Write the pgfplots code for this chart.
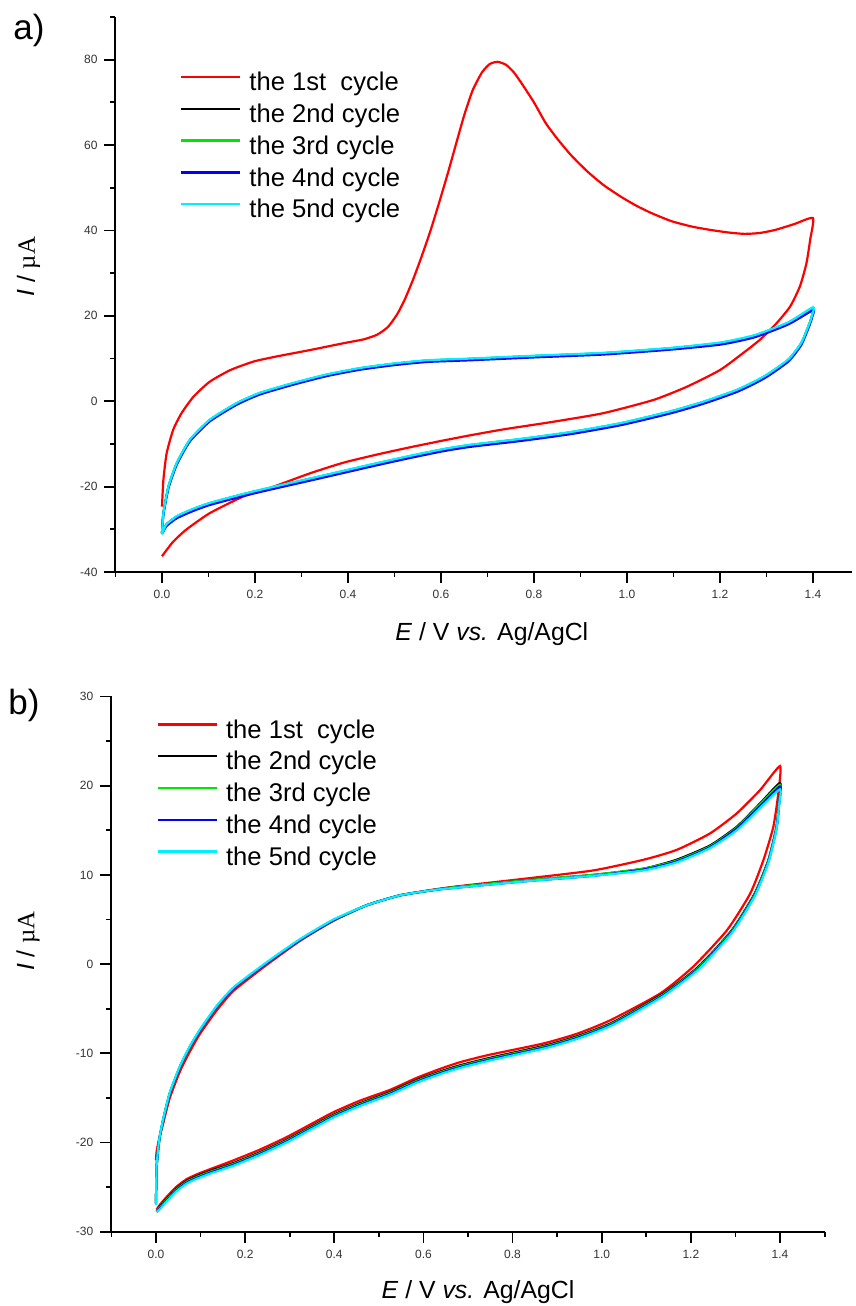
\documentclass[border=0pt]{standalone}
\usepackage{fontspec}
\setmainfont{Liberation Sans}
\newfontfamily\seriffont{Liberation Serif}
\usepackage{pgfplots}
\usepackage{pgfplotstable}
\pgfplotsset{compat=1.18}

\definecolor{cvred}{RGB}{255,0,0}
\definecolor{cvgreen}{RGB}{0,230,0}
\definecolor{cvblue}{RGB}{0,0,255}
\definecolor{cvcyan}{RGB}{0,240,255}

% panel a, 1st cycle
\pgfplotstableread{
E I
0 -24.7
0.003 -18.4
0.010 -12.2
0.024 -6.7
0.042 -2.8
0.068 1.1
0.103 4.6
0.147 7.3
0.197 9.3
0.247 10.5
0.319 12.0
0.391 13.6
0.434 14.5
0.463 15.6
0.486 17.4
0.506 20.4
0.522 23.8
0.540 28.5
0.558 33.8
0.577 39.8
0.596 46.5
0.615 53.5
0.633 60.5
0.650 67.0
0.668 72.8
0.688 77.0
0.705 79.0
0.722 79.5
0.740 78.8
0.757 77.0
0.775 74.2
0.800 70.0
0.825 65.2
0.850 61.5
0.880 57.6
0.915 53.8
0.950 50.6
0.987 47.9
1.020 45.8
1.052 44.1
1.095 42.2
1.140 40.9
1.181 40.1
1.220 39.5
1.253 39.2
1.285 39.4
1.318 40.1
1.360 41.5
1.400 42.9
1.394 37.8
1.386 32.3
1.372 26.9
1.351 22.2
1.322 18.3
1.286 14.4
1.250 11.3
1.200 7.3
1.129 3.4
1.057 0.3
0.949 -2.8
0.842 -4.8
0.734 -6.6
0.662 -8.0
0.605 -9.2
0.533 -10.8
0.462 -12.5
0.390 -14.4
0.318 -16.9
0.225 -20.6
0.175 -22.3
0.103 -26.2
0.053 -30.0
0.024 -32.9
0 -36.3
}\aRed

% panel a, cycles 2-5
\pgfplotstableread{
E c2 c3 c4 c5
0 -30.9 -30.9 -31.0 -31.2
0.003 -26.3 -26.3 -26.5 -26.3
0.014 -20.0 -20.0 -20.3 -19.9
0.032 -14.5 -14.5 -14.8 -14.4
0.060 -9.1 -9.1 -9.4 -9.0
0.103 -4.4 -4.4 -4.7 -4.3
0.161 -0.5 -0.5 -0.8 -0.4
0.211 1.9 1.9 1.6 2.0
0.283 4.2 4.2 3.9 4.3
0.355 6.2 6.2 5.9 6.3
0.427 7.7 7.7 7.4 7.8
0.499 8.75 8.75 8.45 8.85
0.570 9.5 9.5 9.2 9.6
0.664 9.9 9.9 9.6 10.0
0.807 10.6 10.6 10.3 10.7
0.951 11.25 11.25 10.95 11.35
1.095 12.4 12.4 12.1 12.5
1.203 13.6 13.7 13.3 13.8
1.275 15.3 15.4 15.0 15.5
1.347 18.3 18.4 18.0 18.5
1.400 21.8 21.9 21.3 22.0
1.398 20.0 20.0 19.6 20.1
1.393 18.3 18.3 17.9 18.4
1.375 13.6 13.6 13.2 13.7
1.347 9.7 9.7 9.3 9.8
1.296 5.8 5.8 5.4 5.9
1.239 2.7 2.7 2.3 2.8
1.167 -0.1 -0.1 -0.5 0.0
1.095 -2.4 -2.4 -2.8 -2.3
0.987 -5.2 -5.2 -5.6 -5.1
0.879 -7.3 -7.3 -7.7 -7.2
0.772 -8.9 -8.9 -9.3 -8.8
0.662 -10.3 -10.3 -10.7 -10.2
0.605 -11.3 -11.3 -11.7 -11.2
0.533 -12.9 -12.9 -13.3 -12.8
0.462 -14.6 -14.6 -15.0 -14.5
0.390 -16.4 -16.4 -16.8 -16.3
0.318 -18.2 -18.2 -18.6 -18.1
0.225 -20.5 -20.5 -20.9 -20.4
0.175 -21.8 -21.8 -22.2 -21.7
0.103 -23.9 -23.9 -24.3 -23.8
0.067 -25.3 -25.3 -25.7 -25.2
0.032 -27.0 -27.0 -27.4 -26.9
0.010 -28.8 -28.8 -29.2 -28.8
0.003 -30.2 -30.2 -30.5 -30.3
0 -30.9 -30.9 -31.0 -31.2
}\aRest

% panel b, 1st cycle
\pgfplotstableread{
E I
0 -22.0
0.0015 -21.0
0.0075 -19.5
0.016 -17.9
0.031 -15.0
0.054 -12.0
0.076 -9.8
0.099 -7.8
0.136 -5.2
0.174 -3.0
0.248 -0.1
0.323 2.6
0.398 4.85
0.473 6.6
0.547 7.7
0.622 8.35
0.682 8.75
0.832 9.6
0.981 10.5
1.094 11.7
1.168 12.8
1.243 14.65
1.303 16.9
1.355 19.5
1.400 22.2
1.396 19.1
1.385 15.4
1.363 11.7
1.333 7.9
1.281 3.8
1.205 -0.3
1.131 -3.3
1.019 -6.3
0.945 -7.8
0.869 -8.9
0.745 -10.2
0.682 -11.0
0.640 -11.7
0.585 -12.75
0.525 -14.1
0.458 -15.3
0.398 -16.6
0.353 -17.8
0.293 -19.4
0.233 -20.8
0.174 -22.0
0.121 -23.0
0.095 -23.5
0.069 -24.1
0.045 -25.0
0.024 -26.1
0.010 -26.9
0.0015 -27.5
}\bRed

% panel b, cycles 2-5
\pgfplotstableread{
E c2 c3 c4 c5
0 -26.8 -26.8 -26.9 -27.0
0.0015 -22.7 -22.7 -22.7 -22.6
0.0075 -19.7 -19.7 -19.7 -19.6
0.016 -17.5 -17.5 -17.5 -17.4
0.031 -14.5 -14.5 -14.5 -14.4
0.054 -11.5 -11.5 -11.5 -11.4
0.076 -9.3 -9.3 -9.3 -9.2
0.099 -7.4 -7.4 -7.4 -7.3
0.136 -4.8 -4.8 -4.8 -4.7
0.174 -2.7 -2.7 -2.7 -2.6
0.248 0.1 0.1 0.1 0.2
0.323 2.7 2.7 2.7 2.8
0.398 4.9 4.9 4.9 5.0
0.473 6.6 6.6 6.6 6.6
0.547 7.7 7.7 7.7 7.7
0.622 8.3 8.3 8.3 8.3
0.682 8.7 8.7 8.6 8.6
0.832 9.4 9.4 9.3 9.3
0.981 10.0 10.0 9.9 9.9
1.094 10.7 10.7 10.6 10.5
1.168 11.7 11.6 11.5 11.4
1.243 13.3 13.2 13.1 13.0
1.303 15.4 15.3 15.2 15.0
1.355 18.0 17.9 17.7 17.5
1.400 20.3 20.1 19.9 19.6
1.398 18.2 18.1 18.0 17.9
1.392 15.4 15.3 15.2 15.1
1.374 11.7 11.6 11.5 11.4
1.343 7.9 7.8 7.7 7.6
1.292 3.8 3.7 3.6 3.5
1.217 -0.3 -0.4 -0.5 -0.6
1.138 -3.3 -3.4 -3.5 -3.6
1.026 -6.5 -6.6 -6.7 -6.8
0.950 -8.0 -8.1 -8.2 -8.3
0.876 -9.1 -9.2 -9.3 -9.4
0.750 -10.5 -10.6 -10.7 -10.8
0.682 -11.35 -11.45 -11.55 -11.65
0.640 -12.0 -12.1 -12.2 -12.3
0.585 -13.0 -13.1 -13.2 -13.3
0.525 -14.35 -14.45 -14.55 -14.65
0.458 -15.6 -15.7 -15.8 -15.9
0.398 -16.9 -17.0 -17.1 -17.2
0.353 -18.1 -18.2 -18.3 -18.4
0.293 -19.7 -19.8 -19.9 -20.0
0.233 -21.1 -21.2 -21.3 -21.4
0.174 -22.3 -22.4 -22.5 -22.6
0.121 -23.2 -23.3 -23.4 -23.5
0.095 -23.7 -23.8 -23.9 -24.0
0.069 -24.3 -24.4 -24.5 -24.6
0.045 -25.2 -25.3 -25.4 -25.5
0.024 -26.3 -26.4 -26.5 -26.6
0.010 -27.1 -27.2 -27.3 -27.4
0.0015 -27.7 -27.7 -27.8 -27.8
}\bRest

\pgfplotsset{
  cvaxis/.style={
    scale only axis,
    axis x line*=bottom,
    axis y line*=left,
    axis line style={line width=1pt},
    tick align=outside,
    major tick length=5.5pt,
    minor tick length=2.5pt,
    tick style={black, line width=0.9pt},
    tick label style={font=\fontsize{6}{7}\selectfont, text=black!80},
    /pgf/number format/assume math mode=true,
    xmin=-0.1,
    xtick={0,0.2,0.4,0.6,0.8,1.0,1.2,1.4},
    minor xtick={-0.1,0.1,0.3,0.5,0.7,0.9,1.1,1.3,1.5},
    xticklabel style={/pgf/number format/.cd, fixed, fixed zerofill, precision=1},
    label style={font=\fontsize{12.4}{14}\selectfont},
    xlabel={\textit{E} / V \textit{vs.} Ag/AgCl},
    ylabel={\textit{I} / {\seriffont µA}},
    legend cell align=left,
    legend image code/.code={\draw[##1, line width=1.2pt] (0pt,3.6pt) -- (29.5pt,3.6pt);},
    legend style={draw=none, fill=none, inner sep=0pt, outer sep=0pt,
      font=\fontsize{12.8}{15}\selectfont, row sep=3.9pt, column sep=4pt,
      nodes={inner sep=0pt, text height=9.2pt, text depth=2.8pt}},
  },
  cvline/.style={line width=1.1pt, no markers, smooth, tension=0.35},
}

\begin{document}
\begin{tikzpicture}
\useasboundingbox (0pt,0pt) rectangle (428pt,653pt);

\node[anchor=base west, font=\fontsize{17.5}{20}\selectfont, inner sep=0pt] at (6.5pt,633pt) {a)};
\node[anchor=base west, font=\fontsize{17.5}{20}\selectfont, inner sep=0pt] at (4pt,295.5pt) {b)};

\begin{axis}[cvaxis,
  at={(57.75pt,367pt)}, anchor=south west,
  width=368.25pt, height=277.5pt,
  xmax=1.484, ymin=-40, ymax=90,
  ytick={-40,-20,0,20,40,60,80},
  minor ytick={-30,-10,10,30,50,70,90},
  xlabel style={at={(axis description cs:0.511,-0.1243)}, anchor=base},
  ylabel style={at={(axis description cs:-0.1093,0.55)}, anchor=base},
  legend style={at={(axis description cs:0.0876,0.9004)}, anchor=north west},
]
\addplot[cvline, cvred] table[x=E, y=I] {\aRed};
\addplot[cvline, black] table[x=E, y=c2] {\aRest};
\addplot[cvline, cvgreen] table[x=E, y=c3] {\aRest};
\addplot[cvline, cvblue] table[x=E, y=c4] {\aRest};
\addplot[cvline, cvcyan] table[x=E, y=c5] {\aRest};
\legend{the 1st\ \ cycle, the 2nd cycle, the 3rd cycle, the 4nd cycle, the 5nd cycle}
\end{axis}

\begin{axis}[cvaxis,
  at={(55.7pt,37.15pt)}, anchor=south west,
  width=356.6pt, height=267.6pt,
  xmax=1.5, ymin=-30, ymax=30,
  ytick={-30,-20,-10,0,10,20,30},
  minor ytick={-25,-15,-5,5,15,25},
  xlabel style={at={(axis description cs:0.514,-0.1244)}, anchor=base},
  ylabel style={at={(axis description cs:-0.108,0.543)}, anchor=base},
  legend style={at={(axis description cs:0.0635,0.9567)}, anchor=north west},
]
\addplot[cvline, cvred] table[x=E, y=I] {\bRed};
\addplot[cvline, black] table[x=E, y=c2] {\bRest};
\addplot[cvline, cvgreen] table[x=E, y=c3] {\bRest};
\addplot[cvline, cvblue] table[x=E, y=c4] {\bRest};
\addplot[cvline, cvcyan] table[x=E, y=c5] {\bRest};
\legend{the 1st\ \ cycle, the 2nd cycle, the 3rd cycle, the 4nd cycle, the 5nd cycle}
\end{axis}
\end{tikzpicture}
\end{document}
